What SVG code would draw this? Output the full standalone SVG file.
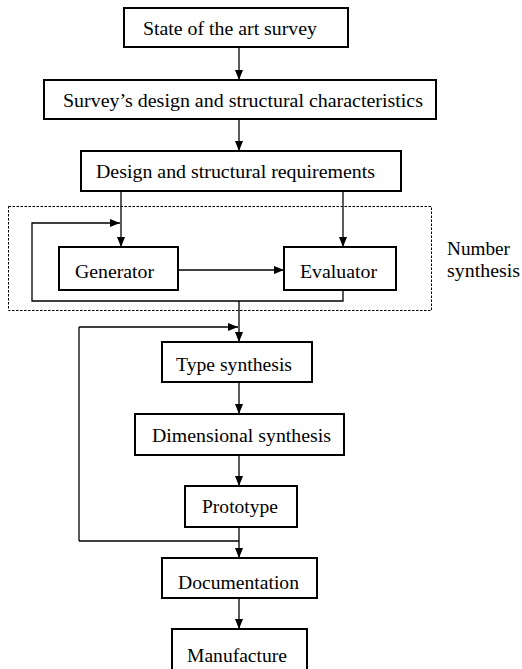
<svg xmlns="http://www.w3.org/2000/svg" width="522" height="669" viewBox="0 0 522 669">
<defs>
<marker id="ah" viewBox="0 0 10 8" refX="10" refY="4" markerWidth="10" markerHeight="8" markerUnits="userSpaceOnUse" orient="auto">
<path d="M0,0 L10,4 L0,8 Z" fill="#000"/>
</marker>
<style>
.box{fill:#fff;stroke:#000;stroke-width:2}
.t{font-family:"Liberation Serif","Times New Roman",serif;font-size:19.5px;fill:#000}
.c{fill:none;stroke:#000;stroke-width:1.3}
.a{marker-end:url(#ah)}
.dash{fill:none;stroke:#000;stroke-width:1;stroke-dasharray:2.5,1.5}
</style>
</defs>
<rect width="522" height="669" fill="#fff"/>
<g id="number-synthesis">
<rect class="dash" x="8.5" y="206.5" width="423" height="104"/>
<text class="t" x="447" y="255" textLength="63" lengthAdjust="spacingAndGlyphs">Number</text>
<text class="t" x="447" y="277" textLength="73" lengthAdjust="spacingAndGlyphs">synthesis</text>
</g>
<g id="connectors">
<path class="c a" d="M239,47 V80"/>
<path class="c a" d="M239,119 V151"/>
<path class="c a" d="M121,191 V247"/>
<path class="c a" d="M343,191 V247"/>
<path class="c a" d="M178,270 H284"/>
<path class="c a" d="M343,290 V301 H32 V223 H120"/>
<path class="c a" d="M239,301 V342"/>
<path class="c a" d="M79,327 V541 M79,327 H238"/>
<path class="c a" d="M239,382 V414"/>
<path class="c a" d="M239,455 V486"/>
<path class="c" d="M79,541 H239"/>
<path class="c a" d="M239,527 V558"/>
<path class="c a" d="M239,598 V629"/>
</g>
<g id="state">
<rect class="box" x="124" y="8" width="224" height="39"/>
<text class="t" x="143" y="35" textLength="174" lengthAdjust="spacingAndGlyphs">State of the art survey</text>
</g>
<g id="survey">
<rect class="box" x="44" y="80" width="392" height="39"/>
<text class="t" x="63" y="107" textLength="360" lengthAdjust="spacingAndGlyphs">Survey’s design and structural characteristics</text>
</g>
<g id="requirements">
<rect class="box" x="81" y="151" width="320" height="40"/>
<text class="t" x="96" y="178" textLength="279" lengthAdjust="spacingAndGlyphs">Design and structural requirements</text>
</g>
<g id="generator">
<rect class="box" x="59" y="247" width="119" height="43"/>
<text class="t" x="75" y="278" textLength="79" lengthAdjust="spacingAndGlyphs">Generator</text>
</g>
<g id="evaluator">
<rect class="box" x="284" y="247" width="112" height="43"/>
<text class="t" x="300" y="278" textLength="77" lengthAdjust="spacingAndGlyphs">Evaluator</text>
</g>
<g id="type">
<rect class="box" x="162" y="342" width="150" height="40"/>
<text class="t" x="176" y="371" textLength="116" lengthAdjust="spacingAndGlyphs">Type synthesis</text>
</g>
<g id="dimensional">
<rect class="box" x="135" y="414" width="209" height="41"/>
<text class="t" x="152" y="442" textLength="179" lengthAdjust="spacingAndGlyphs">Dimensional synthesis</text>
</g>
<g id="prototype">
<rect class="box" x="185" y="486" width="112" height="41"/>
<text class="t" x="202" y="513" textLength="76" lengthAdjust="spacingAndGlyphs">Prototype</text>
</g>
<g id="documentation">
<rect class="box" x="162" y="558" width="155" height="40"/>
<text class="t" x="178" y="589" textLength="121" lengthAdjust="spacingAndGlyphs">Documentation</text>
</g>
<g id="manufacture">
<rect class="box" x="172" y="629" width="135" height="44"/>
<text class="t" x="187" y="662" textLength="100" lengthAdjust="spacingAndGlyphs">Manufacture</text>
</g>
</svg>
